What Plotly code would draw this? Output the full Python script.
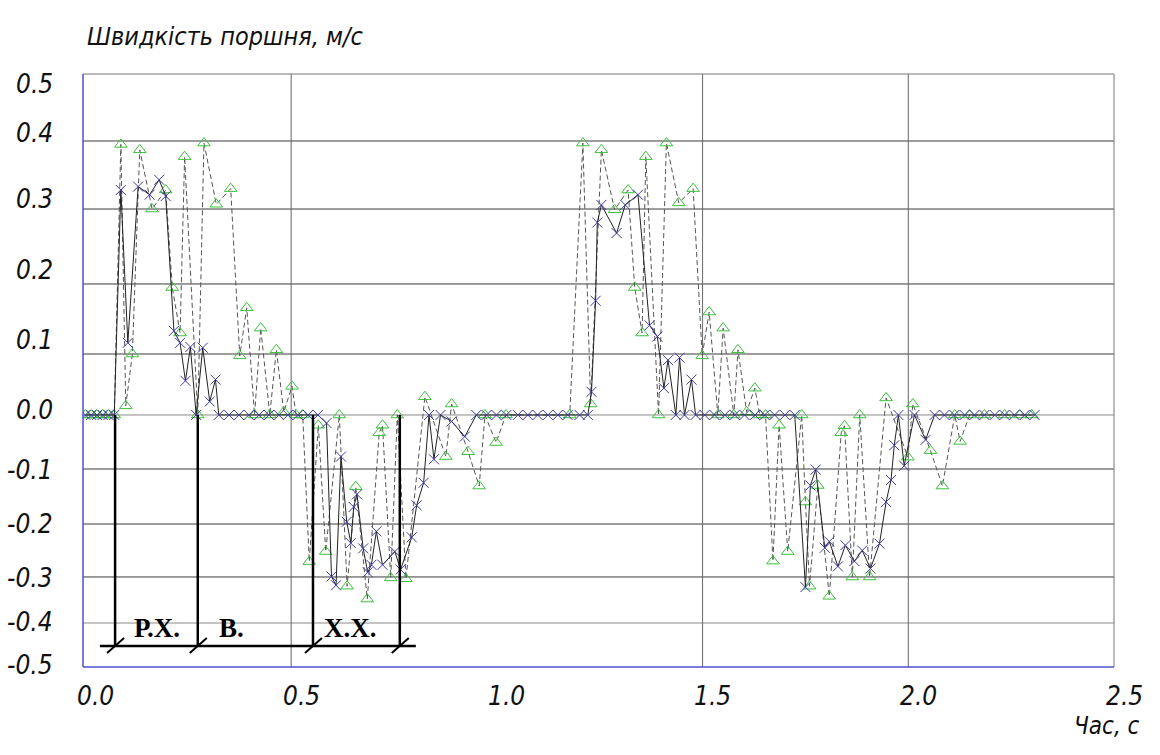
import numpy as np
import plotly.graph_objects as go

# ---------------- data ----------------
# series 1: green open triangles, dashed line
tri_t = ([0.000, 0.014, 0.028, 0.042, 0.056, 0.070]
         + [0.086, 0.098, 0.114, 0.132, 0.162, 0.195, 0.211, 0.230, 0.241, 0.273, 0.288, 0.318,
            0.353, 0.375, 0.392, 0.411, 0.426, 0.448, 0.464, 0.482, 0.502, 0.512, 0.528]
         + [0.544, 0.566, 0.584, 0.617, 0.636, 0.657, 0.685, 0.714, 0.722, 0.742, 0.758, 0.779,
            0.825, 0.876, 0.890, 0.930, 0.957, 0.971, 0.998, 1.022]
         + [1.177, 1.209, 1.228, 1.254, 1.286, 1.319, 1.335, 1.353, 1.362, 1.393, 1.412, 1.442,
            1.477, 1.499, 1.516, 1.537, 1.550, 1.576, 1.586, 1.607, 1.627, 1.639, 1.653]
         + [1.671, 1.686, 1.707, 1.741, 1.750, 1.760, 1.780, 1.808, 1.837, 1.845, 1.864, 1.882,
            1.906, 1.946, 1.999, 2.011, 2.054, 2.083, 2.113, 2.126, 2.149, 2.185, 2.234, 2.271, 2.300])
tri_v = ([0, 0, 0, 0, 0, 0]
         + [0.395, 0.015, 0.100, 0.387, 0.300, 0.328, 0.195, 0.130, 0.377, 0.000, 0.397, 0.307,
            0.330, 0.097, 0.166, 0.000, 0.137, 0.000, 0.106, 0.005, 0.047, 0.000, 0.000]
         + [-0.271, -0.019, -0.252, 0.000, -0.320, -0.132, -0.348, -0.033, -0.019, -0.302, 0.000, -0.304,
            0.030, -0.077, 0.018, -0.068, -0.131, 0.000, -0.051, 0.000]
         + [0.000, 0.397, 0.018, 0.387, 0.299, 0.328, 0.195, 0.130, 0.377, 0.000, 0.397, 0.309,
            0.330, 0.097, 0.160, 0.000, 0.137, 0.000, 0.106, 0.005, 0.044, 0.000, 0.000]
         + [-0.270, -0.019, -0.252, 0.000, -0.160, -0.320, -0.130, -0.342, -0.033, -0.020, -0.300, 0.000,
            -0.300, 0.028, -0.078, 0.018, -0.066, -0.131, 0.000, -0.049, 0.000, 0.000, 0.000, 0.000, 0.000])

# series 2: blue crosses, solid line
crs_t = ([0.000, 0.014, 0.028, 0.042, 0.056, 0.070]
         + [0.086, 0.103, 0.128, 0.156, 0.179, 0.195, 0.215, 0.230, 0.243, 0.255, 0.269, 0.285,
            0.302, 0.316, 0.324, 0.349, 0.373, 0.397, 0.422, 0.446, 0.470, 0.492, 0.516, 0.541, 0.565]
         + [0.586, 0.598, 0.609, 0.621, 0.635, 0.645, 0.652, 0.660, 0.675, 0.686, 0.695, 0.707,
            0.722, 0.752, 0.766, 0.793, 0.805, 0.822, 0.835, 0.847, 0.863, 0.890, 0.922, 0.950,
            0.975, 0.999, 1.023, 1.051, 1.075, 1.099, 1.124, 1.148, 1.172, 1.201, 1.221]
         + [1.230, 1.240, 1.244, 1.254, 1.291, 1.312, 1.343, 1.371, 1.390, 1.406, 1.416, 1.435,
            1.444, 1.456, 1.473, 1.483, 1.505, 1.529, 1.554, 1.578, 1.602, 1.627, 1.651, 1.675, 1.700, 1.724]
         + [1.750, 1.762, 1.775, 1.797, 1.808, 1.829, 1.847, 1.869, 1.888, 1.908, 1.930, 1.946,
            1.958, 1.966, 1.976, 1.990, 2.015, 2.042, 2.064, 2.088, 2.112, 2.137, 2.161, 2.185,
            2.210, 2.234, 2.258, 2.283, 2.307])
crs_v = ([0, 0, 0, 0, 0, 0]
         + [0.328, 0.116, 0.333, 0.321, 0.343, 0.319, 0.133, 0.116, 0.056, 0.110, 0.000, 0.109,
            0.022, 0.058, 0.000, 0, 0, 0, 0, 0, 0, 0, 0, 0, 0]
         + [-0.015, -0.299, -0.318, -0.077, -0.196, -0.236, -0.169, -0.146, -0.246, -0.291, -0.277, -0.214,
            -0.277, -0.252, -0.286, -0.225, -0.166, -0.125, 0.000, -0.082, 0.000, -0.012, -0.040, 0,
            0, 0, 0, 0, 0, 0, 0, 0, 0, 0, 0]
         + [0.038, 0.176, 0.282, 0.306, 0.268, 0.306, 0.321, 0.141, 0.125, 0.044, 0.090, 0.000,
            0.094, 0.000, 0.058, 0.000, 0, 0, 0, 0, 0, 0, 0, 0, 0, 0]
         + [-0.322, -0.130, -0.101, -0.245, -0.233, -0.280, -0.240, -0.270, -0.250, -0.284, -0.237, -0.160,
            -0.120, -0.056, 0.000, -0.094, 0.000, -0.046, 0.000, 0, 0, 0, 0, 0,
            0, 0, 0, 0, 0])

assert len(tri_t) == len(tri_v) and len(crs_t) == len(crs_v)

# axis ticks / labels
x_ticks = [0.0, 0.5, 1.0, 1.5, 2.0, 2.5]
x_tick_text = ["0.0", "0.5", "1.0", "1.5", "2.0", "2.5"]
x_grid = [0.5, 1.5, 2.0]
y_ticks = [-0.5, -0.4, -0.3, -0.2, -0.1, 0.0, 0.1, 0.2, 0.3, 0.4, 0.5]
y_tick_text = ["-0.5", "-0.4", "-0.3", "-0.2", "-0.1", "0.0", "0.1", "0.2", "0.3", "0.4", "0.5"]

# the reference's vertical scale is non-uniform: relative height of every gridline
y_scale_pos = [0.0, 0.0742, 0.1518, 0.2411, 0.3339, 0.4250, 0.5278, 0.6459, 0.7723, 0.8870, 1.0]
y_label_pos = [0.0034, 0.0759, 0.1501, 0.2411, 0.3322, 0.4334, 0.5514, 0.6695, 0.7892, 0.9005, 0.9831]

# phase markup (Р.Х. / В. / Х.Х.)
phase_bounds = [0.072, 0.273, 0.553, 0.764]
phase_labels = ["Р.Х.", "В.", "Х.Х."]
phase_label_t = [0.174, 0.354, 0.645]
phase_line_v = -0.452
phase_label_v = -0.411


def ys(v):
    return np.interp(np.asarray(v, dtype=float), y_ticks, y_scale_pos)


FONT = "DejaVu Sans Condensed, Liberation Sans Narrow, DejaVu Sans, sans-serif"
LABEL_FONT = dict(family=FONT, size=26, color="#111111", style="italic")

fig = go.Figure()
fig.add_trace(go.Scatter(
    x=tri_t, y=ys(tri_v), mode="lines+markers", name="1",
    line=dict(color="#555555", width=1, dash="5px,3px"),
    marker=dict(symbol="triangle-up-open", size=11, color="#3cc03c", line=dict(width=1, color="#3cc03c")),
))
fig.add_trace(go.Scatter(
    x=crs_t, y=ys(crs_v), mode="lines+markers", name="2",
    line=dict(color="#222222", width=1),
    marker=dict(symbol="x-thin-open", size=10, color="#3a3aa5", line=dict(width=1, color="#3a3aa5")),
))

shapes = []
# horizontal gridlines
for v in y_ticks[1:-1]:
    col = "#8a8a8a" if v in (0.0, -0.4) else "#3a3a3a"
    shapes.append(dict(type="line", xref="paper", yref="y", x0=0, x1=1, y0=float(ys(v)), y1=float(ys(v)),
                       line=dict(color=col, width=1), layer="below"))
# vertical gridlines
for t in x_grid:
    shapes.append(dict(type="line", xref="x", yref="paper", x0=t, x1=t, y0=0, y1=1,
                       line=dict(color="#666666", width=1), layer="below"))
# frame
shapes += [
    dict(type="line", xref="paper", yref="paper", x0=0, x1=1, y0=1, y1=1, line=dict(color="#777777", width=1)),
    dict(type="line", xref="paper", yref="paper", x0=1, x1=1, y0=0, y1=1, line=dict(color="#777777", width=1)),
    dict(type="line", xref="paper", yref="paper", x0=0, x1=0, y0=0, y1=1, line=dict(color="#4f4fd0", width=1.5)),
    dict(type="line", xref="paper", yref="paper", x0=0, x1=1, y0=0, y1=0, line=dict(color="#4f4fd0", width=1.5)),
]
# phase markup
yl = float(ys(phase_line_v))
for t in phase_bounds:
    shapes.append(dict(type="line", xref="x", yref="y", x0=t, x1=t, y0=float(ys(0.0)), y1=yl,
                       line=dict(color="#000000", width=2.5)))
    shapes.append(dict(type="line", xref="x", yref="y", xsizemode="pixel", ysizemode="pixel",
                       xanchor=t, yanchor=yl, x0=-8, x1=9, y0=-7, y1=8,
                       line=dict(color="#000000", width=2)))
shapes.append(dict(type="line", xref="x", yref="y", x0=0.035, x1=0.803, y0=yl, y1=yl,
                   line=dict(color="#000000", width=2.5)))

annotations = []
for lab, pos in zip(y_tick_text, y_label_pos):
    annotations.append(dict(text=lab, xref="paper", yref="paper", x=0, y=pos, xanchor="right",
                            yanchor="middle", xshift=-28, showarrow=False, font=LABEL_FONT))
for t, lab in zip(x_ticks, x_tick_text):
    annotations.append(dict(text=lab, xref="x", yref="paper", x=t, y=-0.049, xanchor="center",
                            yanchor="middle", xshift=10, showarrow=False, font=LABEL_FONT))
for t, lab in zip(phase_label_t, phase_labels):
    annotations.append(dict(text=f"<b>{lab}</b>", xref="x", yref="y", x=t, y=float(ys(phase_label_v)),
                            xanchor="center", yanchor="middle", showarrow=False,
                            font=dict(family="Liberation Serif, Times New Roman, serif", size=27, color="#000000")))
annotations.append(dict(text="Швидкість поршня, м/с", xref="paper", yref="paper", x=0, y=1.0624,
                        xanchor="left", yanchor="middle", xshift=2, showarrow=False,
                        font=dict(family=FONT, size=25, color="#111111", style="italic")))
annotations.append(dict(text="Час, с", xref="paper", yref="paper", x=0.993, y=-0.099,
                        xanchor="center", yanchor="middle", showarrow=False,
                        font=dict(family=FONT, size=24, color="#111111", style="italic")))

fig.update_layout(
    width=1160, height=755,
    margin=dict(l=83, r=46, t=74, b=88),
    paper_bgcolor="white", plot_bgcolor="white",
    showlegend=False,
    shapes=shapes, annotations=annotations,
    xaxis=dict(range=[-0.006, 2.5], showgrid=False, zeroline=False, showticklabels=False,
               showline=False, ticks=""),
    yaxis=dict(range=[0, 1], showgrid=False, zeroline=False, showticklabels=False,
               showline=False, ticks=""),
)

fig.write_html("out.html", config={"displayModeBar": False},
               post_script="document.body.style.margin='0px';document.body.style.overflow='hidden';")
